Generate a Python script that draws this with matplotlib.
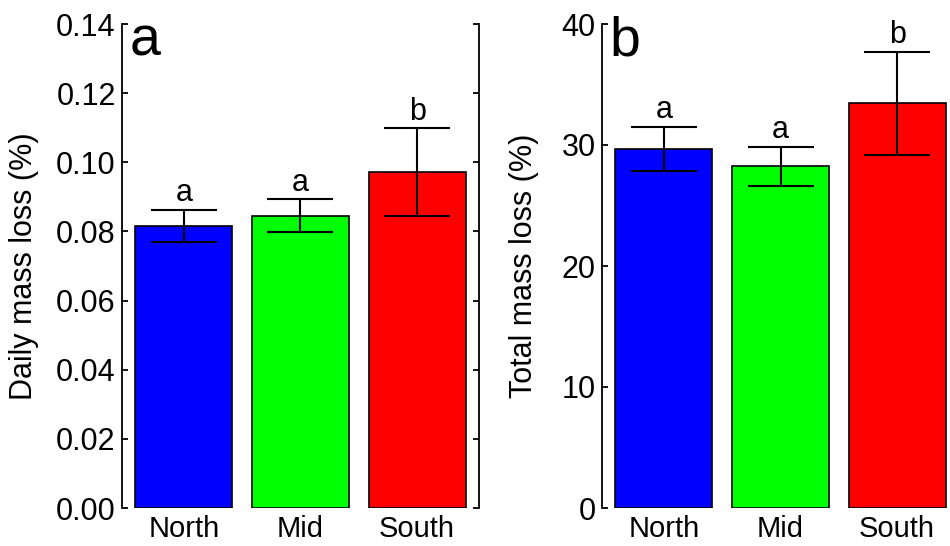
import matplotlib
matplotlib.use("Agg")
import matplotlib.pyplot as plt
import numpy as np

plt.rcParams['font.family'] = ['Liberation Sans', 'DejaVu Sans']

sites = ["North", "Mid", "South"]
colours = ["#0000ff", "#00ff00", "#ff0000"]

daily_mean = [0.0816, 0.0845, 0.0972]
daily_se = [0.0047, 0.0048, 0.0126]
daily_letters = ["a", "a", "b"]

total_mean = [29.7, 28.25, 33.45]
total_se = [1.82, 1.62, 4.25]
total_letters = ["a", "a", "b"]

daily_ticks = [0.00, 0.02, 0.04, 0.06, 0.08, 0.10, 0.12, 0.14]
total_ticks = [0, 10, 20, 30, 40]

fig = plt.figure(figsize=(9.5, 5.46), dpi=100)
ax1 = fig.add_axes([122/950, 1-508/546, 357/950, 484/546])
ax2 = fig.add_axes([602/950, 1-508/546, 357/950, 484/546])

# R barplot style positions: width 1, space 0.2
x = np.array([0.7, 1.9, 3.1])


def panel(ax, means, ses, letters, ticks, ylab, tag, fmt, right_axis):
    ax.bar(x, means, width=1.0, color=colours, edgecolor="black", linewidth=1.2, zorder=2)
    ax.errorbar(x, means, yerr=ses, fmt="none", ecolor="black", elinewidth=1.5,
                capsize=24, capthick=1.5, zorder=3)
    for xi, m, s, l in zip(x, means, ses, letters):
        ax.annotate(l, (xi, m + s), xytext=(0, 6), textcoords="offset points",
                    ha="center", va="baseline", fontsize=22)
    ax.set_xlim(0.064, 3.736)
    ax.set_ylim(ticks[0], ticks[-1])
    ax.set_yticks(ticks)
    ax.set_yticklabels([fmt.format(t) for t in ticks])
    ax.set_xticks(x)
    ax.set_xticklabels(sites)
    ax.tick_params(axis="x", length=0, labelsize=21, pad=5)
    ax.tick_params(axis="y", direction="in", length=4, width=1.3, labelsize=22, pad=4.5,
                   right=right_axis)
    for side in ["top", "bottom"]:
        ax.spines[side].set_visible(False)
    ax.spines["right"].set_visible(right_axis)
    ax.spines["left"].set_linewidth(1.3)
    ax.spines["right"].set_linewidth(1.3)
    ax.set_ylabel(ylab, fontsize=22)
    ax.text(0.02, 0.934, tag, transform=ax.transAxes, fontsize=40, va="baseline")


panel(ax1, daily_mean, daily_se, daily_letters, daily_ticks,
      "Daily mass loss (%)", "a", "{:.2f}", True)
panel(ax2, total_mean, total_se, total_letters, total_ticks,
      "Total mass loss (%)", "b", "{:.0f}", False)

ax1.yaxis.set_label_coords(-83/357, 0.5)
ax2.yaxis.set_label_coords(-63/357, 0.5)

fig.savefig("out.png", dpi=100)
